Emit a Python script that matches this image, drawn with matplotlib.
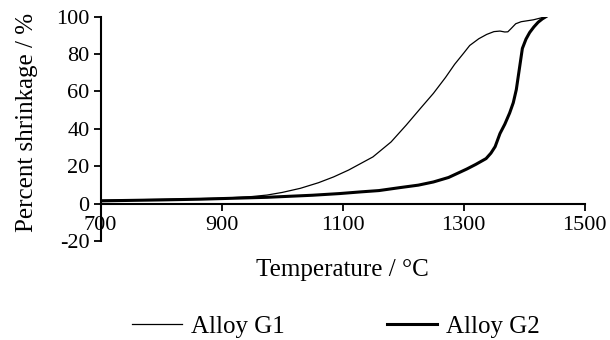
import matplotlib
matplotlib.use("Agg")
import matplotlib.pyplot as plt

plt.rcParams['font.family'] = ['Liberation Serif', 'DejaVu Serif']

# Alloy G1 (thin line)
g1_temp = [700, 800, 900, 950, 975, 1000, 1030, 1060, 1085, 1110, 1130, 1150, 1180, 1205, 1230,
           1250, 1270, 1285, 1300, 1310, 1325, 1338, 1350, 1360, 1368, 1373, 1378, 1386, 1395,
           1415, 1436]
g1_val = [1.8, 2.3, 2.9, 3.8, 4.6, 6.0, 8.2, 11.2, 14.3, 18.0, 21.5, 25.0, 33.0, 42.0, 51.5,
          59.0, 67.5, 74.5, 80.5, 84.6, 88.2, 90.5, 92.0, 92.3, 91.8, 91.9, 93.5, 96.2, 97.3,
          98.3, 100.0]

# Alloy G2 (thick line)
g2_temp = [700, 800, 865, 975, 1050, 1095, 1130, 1160, 1195, 1225, 1250, 1275, 1295, 1305,
           1320, 1337, 1345, 1352, 1360, 1368, 1376, 1382, 1387, 1392, 1397, 1403, 1409, 1416,
           1423, 1430, 1436]
g2_val = [1.5, 2.0, 2.4, 3.4, 4.5, 5.4, 6.3, 7.0, 8.6, 9.9, 11.6, 14.0, 17.0, 18.5, 21.0,
          24.1, 27.0, 30.5, 37.5, 42.5, 48.5, 54.0, 61.0, 72.0, 83.0, 88.0, 91.5, 94.5,
          97.0, 98.8, 100.0]

x_ticks = [700, 900, 1100, 1300, 1500]
y_ticks = [-20, 0, 20, 40, 60, 80, 100]

fig = plt.figure(figsize=(6.1, 3.4), dpi=100)
ax = fig.add_axes([0.165, 0.291, 0.7935, 0.66])

l1, = ax.plot(g1_temp, g1_val, color='black', lw=0.9, label='Alloy G1')
l2, = ax.plot(g2_temp, g2_val, color='black', lw=2.2, label='Alloy G2')

ax.set_xlim(700, 1500)
ax.set_ylim(-20, 100)
ax.set_xticks(x_ticks)
ax.set_yticks(y_ticks)
ax.set_xticklabels([str(t) for t in x_ticks])
ax.set_yticklabels([str(t) for t in y_ticks])

ax.spines['top'].set_visible(False)
ax.spines['right'].set_visible(False)
ax.spines['bottom'].set_position(('data', 0))
ax.spines['bottom'].set_linewidth(1.5)
ax.spines['left'].set_linewidth(1.5)

ax.tick_params(axis='both', direction='out', length=5, width=1.3, labelsize=16, pad=3,
               colors='black')
ax.tick_params(axis='x', pad=4)

ax.set_xlabel('Temperature / \u00b0C', fontsize=18)
ax.xaxis.set_label_coords(0.5, -0.08)
ax.set_ylabel('Percent shrinkage / %', fontsize=18)
ax.yaxis.set_label_coords(-0.13, 0.53)

fig.legend(handles=[l1, l2], loc='center', bbox_to_anchor=(0.551, 0.04), ncol=2,
           frameon=False, fontsize=18, handlelength=2.0, handletextpad=0.36,
           columnspacing=4.1)

fig.savefig('out.png', dpi=100)
